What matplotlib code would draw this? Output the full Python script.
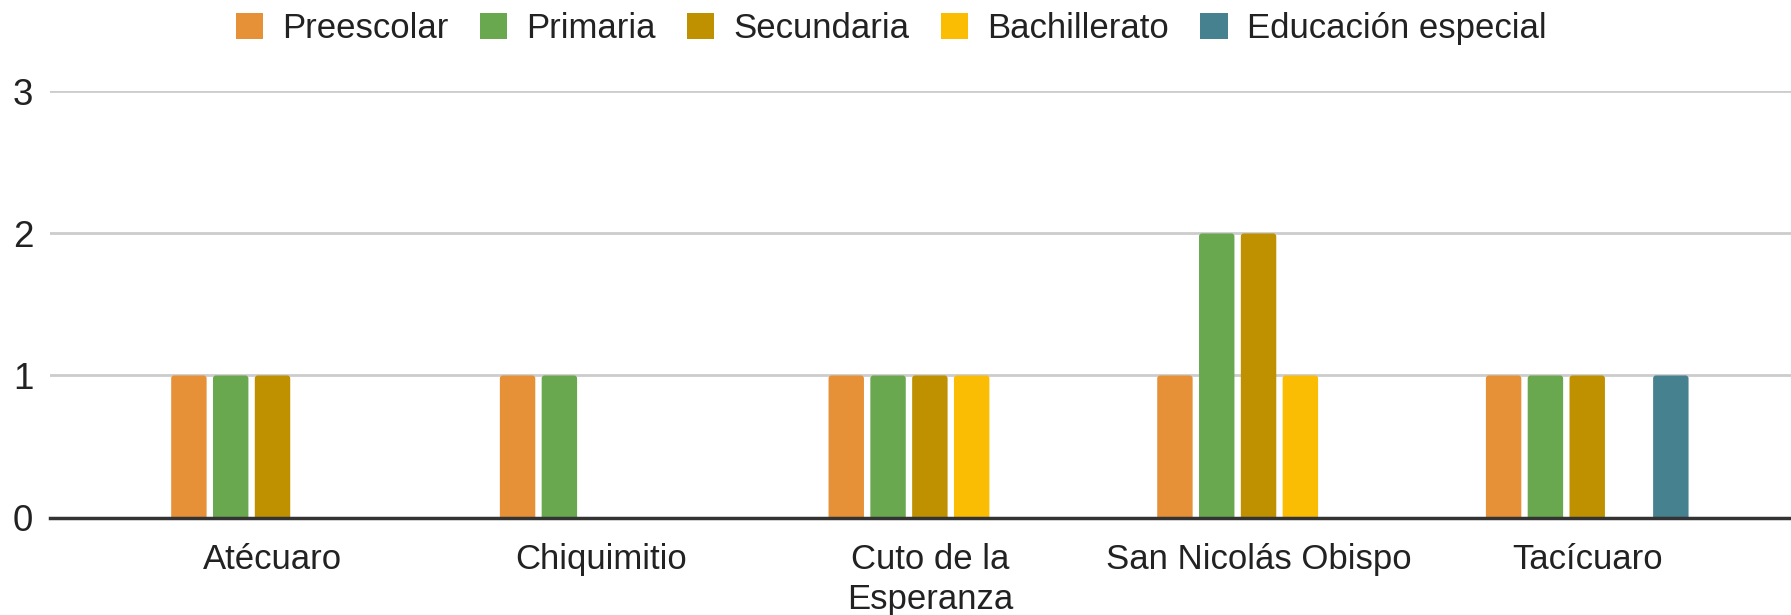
import matplotlib
matplotlib.use("Agg")
import matplotlib.pyplot as plt
from matplotlib.patches import Patch, FancyBboxPatch
import numpy as np

plt.rcParams['font.family'] = ['Liberation Sans', 'DejaVu Sans']

categories = ["Atécuaro", "Chiquimitio", "Cuto de la\nEsperanza", "San Nicolás Obispo", "Tacícuaro"]
series_names = ["Preescolar", "Primaria", "Secundaria", "Bachillerato", "Educación especial"]
preescolar = [1, 1, 1, 1, 1]
primaria = [1, 1, 1, 2, 1]
secundaria = [1, 0, 1, 2, 1]
bachillerato = [0, 0, 1, 1, 0]
educacion_especial = [0, 0, 0, 0, 1]
series_values = [preescolar, primaria, secundaria, bachillerato, educacion_especial]
colors = ["#E69138", "#6AA84F", "#BF9000", "#FBBC04", "#45818E"]
yticks = [0, 1, 2, 3]

fig = plt.figure(figsize=(17.91, 6.15), dpi=100)
ax = fig.add_axes([50/1791, 1-517.5/615, 1-50/1791, (517.5-91.4)/615])

x = np.arange(len(categories))
step = 0.1272
width = 0.1078
ax.set_xlim(-0.677, 4.62)
ax.set_ylim(0, 3)

# rounding: ~3 px radius
rx = 3.0 / 328.7
ry = 3.0 / 142.0
aspect = ry / rx
for j, (vals, c) in enumerate(zip(series_values, colors)):
    bars = ax.bar(x + (j-2)*step, vals, width=width, color=c, zorder=3)
    for b in bars:
        h = b.get_height()
        if h <= 0:
            b.set_visible(False)
            continue
        x0 = b.get_x()
        w = b.get_width()
        b.set_visible(False)
        p = FancyBboxPatch((x0, -ry * 2), w, h + ry * 2,
                           boxstyle=f"round,pad=0,rounding_size={rx}",
                           mutation_aspect=aspect, facecolor=c, edgecolor='none',
                           zorder=3)
        ax.add_patch(p)

ax.set_yticks(yticks)
ax.set_yticklabels([str(t) for t in yticks])
ax.set_xticks(x)
ax.set_xticklabels(categories, linespacing=1.25)
ax.grid(axis='y', color='#CCCCCC', linewidth=2, zorder=0)
ax.axhline(0, color='#333333', linewidth=2.5, zorder=4, clip_on=False)
for s in ax.spines.values():
    s.set_visible(False)
ax.tick_params(axis='x', length=0, labelsize=25, colors='#222222', pad=18.5)
ax.tick_params(axis='y', length=0, labelsize=26.5, colors='#222222', pad=12)

handles = [Patch(facecolor=c, edgecolor='none') for c in colors]
fig.legend(handles, series_names, loc='center', bbox_to_anchor=(0.4975, 1-28.5/615),
           ncol=5, frameon=False, fontsize=25, handlelength=0.78, handleheight=0.78,
           handletextpad=0.55, columnspacing=0.91, labelcolor='#222222', borderaxespad=0)

fig.savefig("out.png", dpi=100)
